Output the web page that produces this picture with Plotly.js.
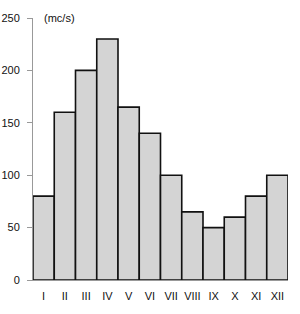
<!DOCTYPE html>
<html>
<head>
<meta charset="utf-8">
<script src="https://cdn.plot.ly/plotly-3.0.1.min.js"></script>
<style>html,body{margin:0;padding:0;background:#fff;}#chart{width:300px;height:314px;}</style>
</head>
<body>
<div id="chart"></div>
<script>
const months = ["I","II","III","IV","V","VI","VII","VIII","IX","X","XI","XII"];
const flow = [80, 160, 200, 230, 165, 140, 100, 65, 50, 60, 80, 100];
const yTicks = [0, 50, 100, 150, 200, 250];
const unitLabel = "(mc/s)";

const font = {family: "Liberation Sans, Arial, Helvetica, sans-serif", size: 11, color: "#111"};

Plotly.newPlot("chart", [{
  type: "bar",
  x: months,
  y: flow,
  marker: {color: "#d4d4d4", line: {color: "#111", width: 1.6}},
  hoverinfo: "none"
}], {
  width: 300, height: 314,
  margin: {l: 33, r: 12, t: 18, b: 34},
  paper_bgcolor: "#fff", plot_bgcolor: "#fff",
  bargap: 0,
  showlegend: false,
  font: font,
  xaxis: {
    type: "category",
    range: [-0.5, 11.5],
    showline: true, linecolor: "#999", linewidth: 1,
    ticks: "outside", ticklen: 6, tickcolor: "rgba(0,0,0,0)",
    showgrid: false, zeroline: false,
    tickfont: font, fixedrange: true
  },
  yaxis: {
    range: [0, 250],
    tickvals: yTicks, ticktext: yTicks.map(String),
    showline: true, linecolor: "#999", linewidth: 1,
    ticks: "outside", ticklen: 5, tickcolor: "#999",
    ticklabelstandoff: 5,
    showgrid: false, zeroline: false,
    tickfont: font, fixedrange: true
  },
  annotations: [{
    text: unitLabel, xref: "paper", yref: "y",
    x: 0.035, y: 250, xanchor: "left", yanchor: "middle",
    showarrow: false, font: font
  }]
}, {displayModeBar: false, staticPlot: true});
</script>
</body>
</html>
